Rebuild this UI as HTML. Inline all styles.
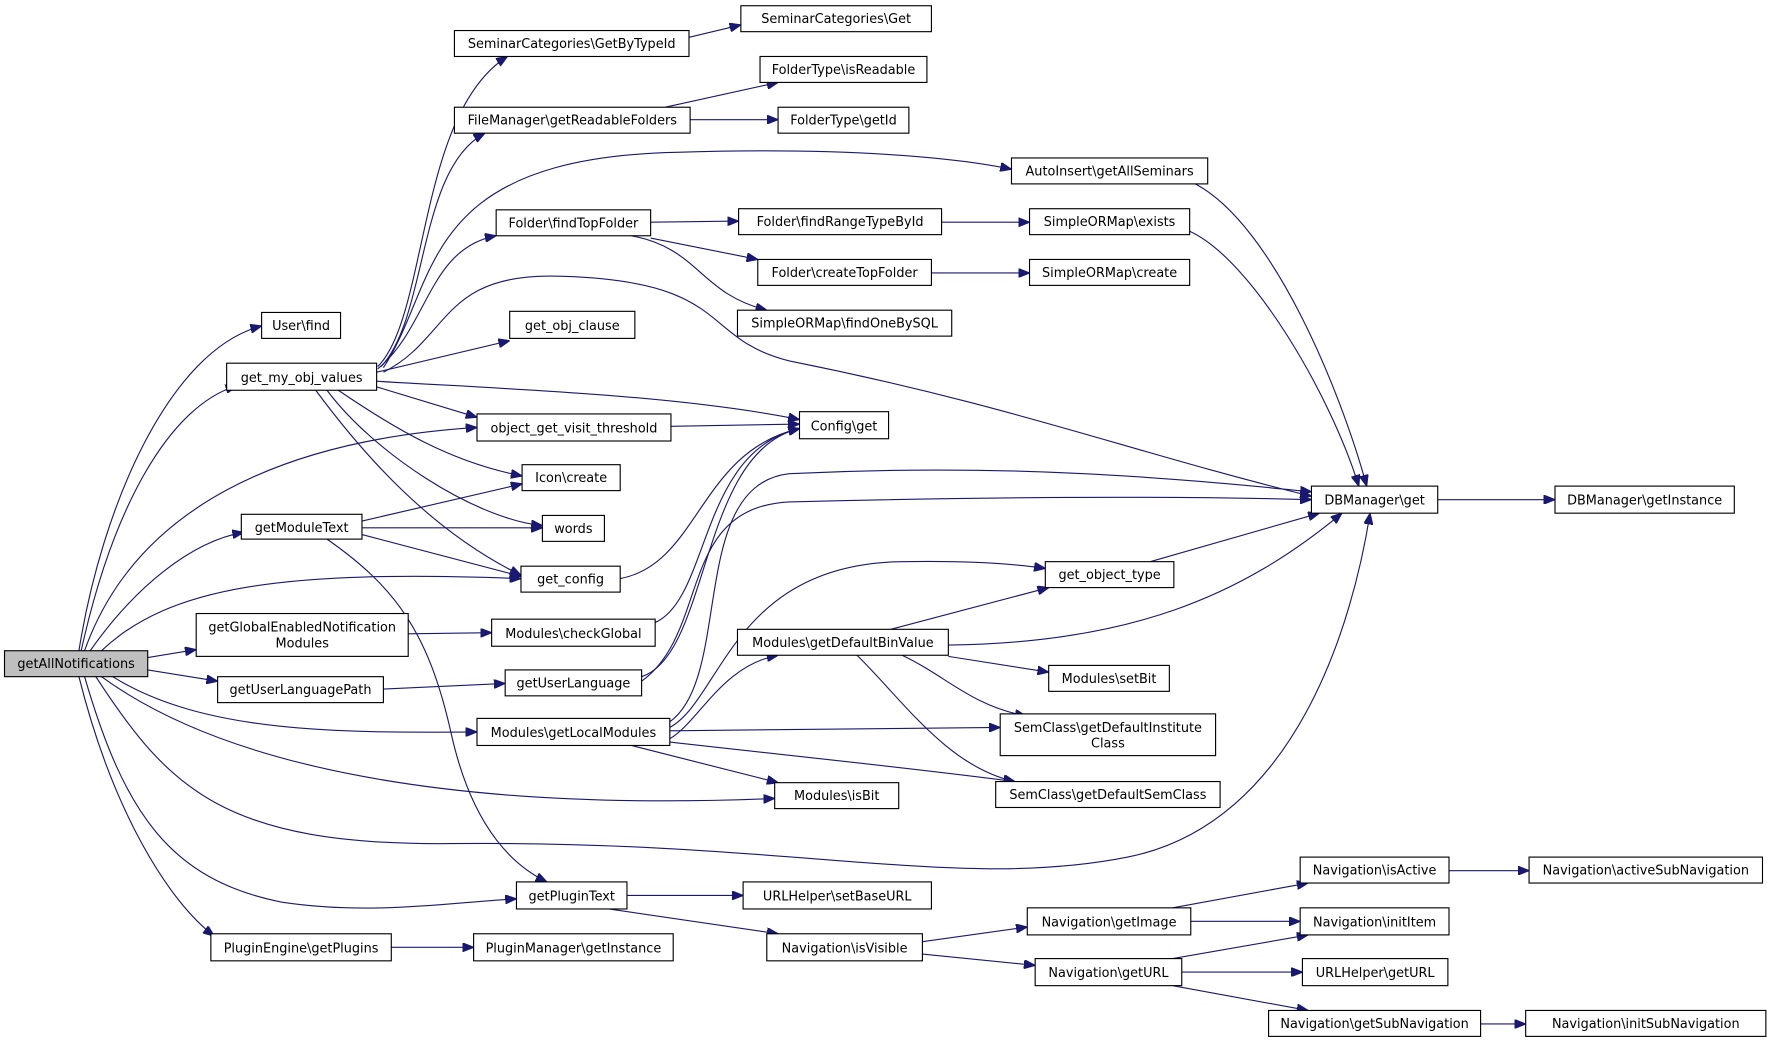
<!DOCTYPE html>
<html><head><meta charset="utf-8"><style>
html,body{margin:0;padding:0;background:#fff;}
svg{display:block;}
text{font-family:"DejaVu Sans","Liberation Sans",sans-serif;font-size:11.4px;fill:#000;text-anchor:middle;}
rect{fill:#fff;stroke:#000;stroke-width:1;}
path{fill:none;stroke:#191970;stroke-width:1;}
</style></head><body>
<svg width="1767" height="1041" viewBox="0 0 1567 923" xmlns="http://www.w3.org/2000/svg">
<defs><marker id="a" markerUnits="userSpaceOnUse" markerWidth="10" markerHeight="8" refX="10" refY="4" orient="auto"><path d="M0,0 L10,4 L0,8 Z" style="fill:#191970;stroke:#191970"/></marker></defs>
<g marker-end="url(#a)">
<path d="M70,577 C90,450 150,310 232,289"/>
<path d="M72,577 C100,450 150,360 210,342"/>
<path d="M75,577 C120,450 250,390 423,379"/>
<path d="M80,577 C120,520 170,480 216,472"/>
<path d="M90,577 C150,520 250,505 462,513"/>
<path d="M131,583 L174,576"/>
<path d="M131,594 L193,604"/>
<path d="M100,600 C180,650 300,650 423,649"/>
<path d="M90,600 C200,680 400,720 687,708"/>
<path d="M85,600 C150,700 200,750 400,748 C700,745 850,790 1000,760 C1150,730 1200,550 1215,455"/>
<path d="M75,600 C110,720 150,780 250,800 C330,812 400,800 458,797"/>
<path d="M70,600 C100,720 150,800 190,830"/>
<path d="M335,325 C380,280 370,100 450,50"/>
<path d="M338,325 C380,280 370,150 430,118"/>
<path d="M340,326 C390,250 370,140 600,135 C750,130 850,140 897,150"/>
<path d="M335,327 C380,290 380,220 440,209"/>
<path d="M340,330 C400,300 390,240 500,245 C650,250 620,300 700,320 C900,360 1000,400 1163,440"/>
<path d="M334,330 L452,302"/>
<path d="M334,338 C450,345 600,350 709,372"/>
<path d="M334,343 L423,370"/>
<path d="M300,346 C350,380 400,410 463,422"/>
<path d="M290,346 C330,400 420,460 481,466"/>
<path d="M280,346 C320,400 380,470 462,510"/>
<path d="M321,462 L463,429"/>
<path d="M321,468 L481,468"/>
<path d="M321,474 L462,511"/>
<path d="M290,478 C350,520 380,560 400,650 C420,740 460,770 485,782"/>
<path d="M362,562 L436,561"/>
<path d="M340,611 L448,606"/>
<path d="M347,840 L420,840"/>
<path d="M611,33 L657,22"/>
<path d="M590,95 L690,73"/>
<path d="M612,106 L690,106"/>
<path d="M577,197 L655,196"/>
<path d="M577,211 L672,230"/>
<path d="M560,209 C620,220 620,260 680,275"/>
<path d="M550,513 C620,500 620,400 709,380"/>
<path d="M581,552 C630,530 620,400 709,380"/>
<path d="M569,600 C630,580 620,400 709,380"/>
<path d="M569,604 C630,560 600,450 700,445 C900,440 1050,440 1163,443"/>
<path d="M595,378 L709,376"/>
<path d="M594,640 C650,600 610,430 700,420 C900,410 1050,425 1163,436"/>
<path d="M594,645 C640,620 650,500 800,498 C860,497 900,500 927,504"/>
<path d="M594,655 C620,640 640,590 690,581"/>
<path d="M594,648 L887,645"/>
<path d="M594,658 C700,670 800,680 900,693"/>
<path d="M560,661 L690,694"/>
<path d="M790,558 L930,521"/>
<path d="M841,572 C1000,570 1100,530 1190,455"/>
<path d="M841,582 L930,596"/>
<path d="M800,581 C840,600 860,625 910,635"/>
<path d="M760,581 C800,620 840,680 900,693"/>
<path d="M1020,498 L1170,455"/>
<path d="M1060,163 C1130,200 1190,350 1212,431"/>
<path d="M1055,205 C1110,230 1180,350 1205,431"/>
<path d="M835,197 L913,197"/>
<path d="M826,242 L913,242"/>
<path d="M1275,443 L1379,443"/>
<path d="M556,794 L659,794"/>
<path d="M540,806 L690,828"/>
<path d="M818,835 L911,822"/>
<path d="M818,846 L918,856"/>
<path d="M1040,805 L1160,783"/>
<path d="M1056,817 L1153,817"/>
<path d="M1040,850 L1160,829"/>
<path d="M1048,862 L1155,862"/>
<path d="M1040,874 L1160,896"/>
<path d="M1285,772 L1356,772"/>
<path d="M1313,908 L1353,908"/>
</g>
<rect x="4" y="577" width="127" height="23" style="fill:#bfbfbf"/><text x="67.5" y="592.5">getAllNotifications</text>
<rect x="232" y="277" width="70" height="23"/><text x="267" y="292.5">User\find</text>
<rect x="201" y="322" width="133" height="24"/><text x="267.5" y="338.5">get_my_obj_values</text>
<rect x="214" y="456" width="107" height="22"/><text x="267.5" y="471.5">getModuleText</text>
<rect x="174" y="544" width="188" height="38"/><text x="268" y="560">getGlobalEnabledNotification</text><text x="268" y="574">Modules</text>
<rect x="193" y="600" width="147" height="23"/><text x="266.5" y="615.5">getUserLanguagePath</text>
<rect x="187" y="828" width="160" height="24"/><text x="267" y="844.5">PluginEngine\getPlugins</text>
<rect x="403" y="27" width="208" height="23"/><text x="507" y="42.5">SeminarCategories\GetByTypeId</text>
<rect x="403" y="95" width="209" height="23"/><text x="507.5" y="110.5">FileManager\getReadableFolders</text>
<rect x="440" y="186" width="137" height="23"/><text x="508.5" y="201.5">Folder\findTopFolder</text>
<rect x="452" y="276" width="111" height="24"/><text x="507.5" y="292.5">get_obj_clause</text>
<rect x="423" y="367" width="172" height="24"/><text x="509" y="383.5">object_get_visit_threshold</text>
<rect x="463" y="412" width="87" height="23"/><text x="506.5" y="427.5">Icon\create</text>
<rect x="481" y="457" width="55" height="23"/><text x="508.5" y="472.5">words</text>
<rect x="462" y="502" width="88" height="23"/><text x="506" y="517.5">get_config</text>
<rect x="436" y="549" width="145" height="24"/><text x="508.5" y="565.5">Modules\checkGlobal</text>
<rect x="448" y="594" width="121" height="23"/><text x="508.5" y="609.5">getUserLanguage</text>
<rect x="423" y="637" width="171" height="24"/><text x="508.5" y="653.5">Modules\getLocalModules</text>
<rect x="458" y="782" width="98" height="24"/><text x="507" y="798.5">getPluginText</text>
<rect x="420" y="828" width="177" height="24"/><text x="508.5" y="844.5">PluginManager\getInstance</text>
<rect x="657" y="5" width="169" height="23"/><text x="741.5" y="20.5">SeminarCategories\Get</text>
<rect x="674" y="50" width="148" height="23"/><text x="748" y="65.5">FolderType\isReadable</text>
<rect x="690" y="95" width="116" height="23"/><text x="748" y="110.5">FolderType\getId</text>
<rect x="655" y="185" width="180" height="23"/><text x="745" y="200.5">Folder\findRangeTypeById</text>
<rect x="672" y="230" width="154" height="23"/><text x="749" y="245.5">Folder\createTopFolder</text>
<rect x="654" y="275" width="190" height="23"/><text x="749" y="290.5">SimpleORMap\findOneBySQL</text>
<rect x="709" y="365" width="79" height="24"/><text x="748.5" y="381.5">Config\get</text>
<rect x="654" y="558" width="187" height="23"/><text x="747.5" y="573.5">Modules\getDefaultBinValue</text>
<rect x="687" y="694" width="110" height="23"/><text x="742" y="709.5">Modules\isBit</text>
<rect x="659" y="782" width="167" height="24"/><text x="742.5" y="798.5">URLHelper\setBaseURL</text>
<rect x="680" y="828" width="138" height="24"/><text x="749" y="844.5">Navigation\isVisible</text>
<rect x="897" y="140" width="174" height="23"/><text x="984" y="155.5">AutoInsert\getAllSeminars</text>
<rect x="913" y="185" width="142" height="23"/><text x="984" y="200.5">SimpleORMap\exists</text>
<rect x="913" y="230" width="142" height="23"/><text x="984" y="245.5">SimpleORMap\create</text>
<rect x="927" y="498" width="114" height="23"/><text x="984" y="513.5">get_object_type</text>
<rect x="930" y="590" width="107" height="23"/><text x="983.5" y="605.5">Modules\setBit</text>
<rect x="887" y="633" width="191" height="37"/><text x="982.5" y="649">SemClass\getDefaultInstitute</text><text x="982.5" y="663">Class</text>
<rect x="883" y="693" width="199" height="23"/><text x="982.5" y="708.5">SemClass\getDefaultSemClass</text>
<rect x="911" y="805" width="145" height="24"/><text x="983.5" y="821.5">Navigation\getImage</text>
<rect x="918" y="850" width="130" height="24"/><text x="983" y="866.5">Navigation\getURL</text>
<rect x="1163" y="431" width="112" height="24"/><text x="1219" y="447.5">DBManager\get</text>
<rect x="1153" y="760" width="132" height="23"/><text x="1219" y="775.5">Navigation\isActive</text>
<rect x="1153" y="805" width="132" height="24"/><text x="1219" y="821.5">Navigation\initItem</text>
<rect x="1155" y="850" width="129" height="24"/><text x="1219.5" y="866.5">URLHelper\getURL</text>
<rect x="1125" y="896" width="188" height="23"/><text x="1219" y="911.5">Navigation\getSubNavigation</text>
<rect x="1379" y="431" width="159" height="24"/><text x="1458.5" y="447.5">DBManager\getInstance</text>
<rect x="1356" y="760" width="207" height="23"/><text x="1459.5" y="775.5">Navigation\activeSubNavigation</text>
<rect x="1353" y="896" width="213" height="23"/><text x="1459.5" y="911.5">Navigation\initSubNavigation</text>
</svg>
</body></html>
